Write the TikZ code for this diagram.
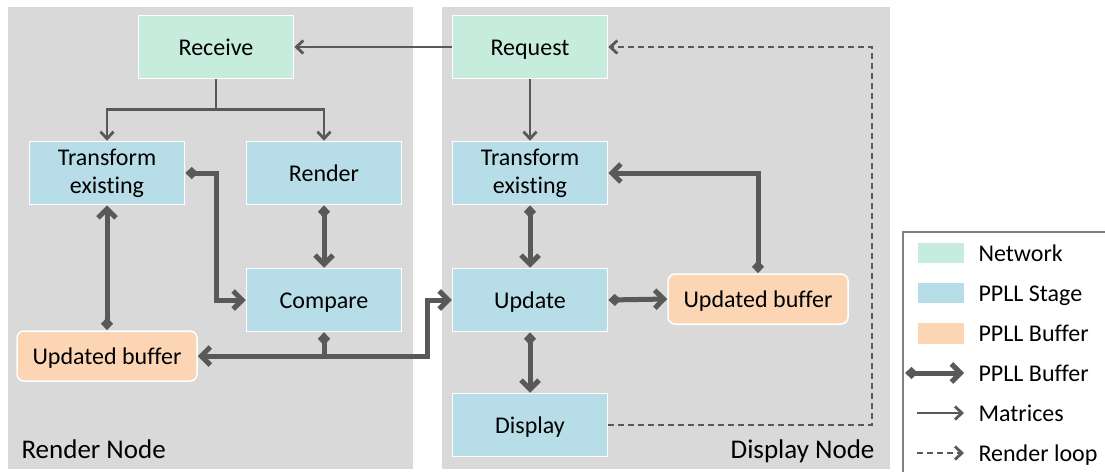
\documentclass[tikz,border=0pt]{standalone}
\usepackage{fontspec}
\setmainfont{Carlito}[Ligatures={NoCommon,NoContextual}]
\usetikzlibrary{arrows.meta}
\definecolor{panelgrey}{HTML}{D9D9D9}
\definecolor{netgreen}{HTML}{C5ECDC}
\definecolor{stageblue}{HTML}{B7DEE8}
\definecolor{buforange}{HTML}{FCD5B5}
\definecolor{linegrey}{HTML}{595959}
\tikzset{
  stage/.style={draw=white, line width=1.5pt, fill=stageblue, minimum width=155pt, minimum height=63pt, inner sep=0pt, align=center},
  oneline/.style={text height=19pt, text depth=2pt},
  net/.style={stage, oneline, fill=netgreen},
  buf/.style={stage, oneline, fill=buforange, rounded corners=7pt, minimum width=180pt, minimum height=50pt},
  panellabel/.style={font=\fontsize{27}{32}\selectfont},
  thinarr/.style={draw=linegrey, line width=2.8pt, -{Straight Barb[length=7pt,width=13pt]}},
  thickarr/.style={draw=linegrey, line width=5pt, {Diamond[length=13pt,width=12pt]}-{Straight Barb[length=9pt,width=18pt]}},
  looparr/.style={thinarr, dash pattern=on 6pt off 4pt}
}
\begin{document}
\begin{tikzpicture}[x=1pt,y=-1pt,font=\fontsize{24}{28}\selectfont]
\useasboundingbox (0,0) rectangle (1105,471);
\fill[panelgrey] (8,7) rectangle (413,469);
\fill[panelgrey] (442,7) rectangle (890,469);

\node[net] (recv) at (216,47) {Receive};
\node[net] (req) at (530,47) {Request};
\node[stage] (trL) at (107,173) {Transform\\existing};
\node[stage, oneline] (rend) at (324,173) {Render};
\node[stage] (trR) at (530,173) {Transform\\existing};
\node[stage, oneline] (cmp) at (324,300) {Compare};
\node[stage, oneline] (upd) at (530,300) {Update};
\node[stage, oneline] (disp) at (530,425) {Display};
\node[buf] (bufL) at (107,356) {Updated buffer};
\node[buf] (bufR) at (758,299) {Updated buffer};

\node[panellabel, anchor=base west] (rnode) at (18,458) {Render Node};
\node[panellabel, anchor=base east] (dnode) at (878,458) {Display Node};

% matrices
\draw[thinarr] (req.west) -- (recv.east);
\draw[thinarr] (recv.south) -- ++(0,30) -| (trL.north);
\draw[thinarr] (recv.south) -- ++(0,30) -| (rend.north);
\draw[thinarr] (req.south) -- (trR.north);

% buffers
\draw[thickarr] (trL.east) -- ++(31,0) |- (cmp.west);
\draw[thickarr] (rend.south) -- (cmp.north);
\draw[thickarr] (bufL.north) -- (trL.south);
\coordinate (hop) at (427,356);
\draw[thickarr] (cmp.south) |- (bufL.east);
\draw[thickarr] (cmp.south) |- (hop) |- (upd.west);
\draw[thickarr] (trR.south) -- (upd.north);
\draw[thickarr] (upd.east) -- (bufR.west);
\draw[thickarr] (bufR.north) |- (trR.east);
\draw[thickarr] (upd.south) -- (disp.north);

% render loop
\coordinate (loopx) at (872,0);
\draw[looparr] (disp.east) -- (disp.east -| loopx) |- (req.east);

% legend
\draw[draw=gray, line width=1.5pt] (903,232) rectangle (1112,480);
\fill[netgreen] (918,243) rectangle (964,263);
\fill[stageblue] (918,283) rectangle (964,303);
\fill[buforange] (918,323) rectangle (964,344);
\draw[thickarr] (905,373) -- (964,373);
\draw[thinarr] (917,413) -- (964,413);
\draw[looparr] (917,453) -- (964,453);
\node[anchor=base west] (lgA) at (975,261) {Network};
\node[anchor=base west] (lgB) at (975,301) {PPLL Stage};
\node[anchor=base west] (lgC) at (975,341) {PPLL Buffer};
\node[anchor=base west] (lgD) at (975,381) {PPLL Buffer};
\node[anchor=base west] (lgE) at (975,421) {Matrices};
\node[anchor=base west] (lgF) at (975,461) {Render loop};
\end{tikzpicture}
\end{document}
